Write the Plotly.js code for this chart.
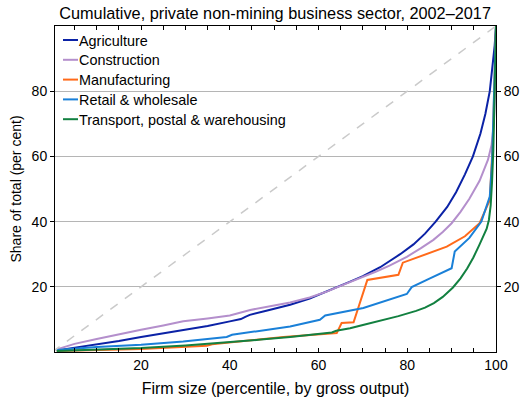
<!DOCTYPE html>
<html>
<head>
<meta charset="utf-8">
<script src="https://cdn.plot.ly/plotly-3.0.1.min.js"></script>
<style>html,body{margin:0;padding:0;background:#fff;}#chart{width:524px;height:401px;}</style>
</head>
<body>
<div id="chart"></div>
<script>
// Series names
const seriesNames = ["Agriculture", "Construction", "Manufacturing", "Retail & wholesale", "Transport, postal & warehousing"];

// Agriculture
const agriX = [1, 5, 10, 15, 20, 25, 29.5, 35, 40, 42.5, 43.5, 44.5, 48, 53.6, 58, 62, 64.4, 67, 70, 73.9, 78.4, 81.4, 84, 86.4, 89, 91, 93, 94.8, 96.5, 97.6, 98.6, 99.3, 99.7, 100];
const agriY = [0.5, 1.3, 2.2, 3.4, 4.6, 5.7, 6.8, 8.0, 9.4, 10.1, 10.8, 11.4, 12.6, 14.5, 16.4, 18.6, 20, 21.5, 23.3, 26.0, 30.0, 33.0, 36.3, 40, 44.5, 49, 54.5, 60, 67, 73, 80, 88, 94, 100];

// Construction
const consX = [1, 5, 10, 15, 20, 25, 29.5, 35, 40, 44.6, 49, 53.6, 58, 62, 64.4, 67, 70, 73, 76, 79.9, 83, 85.9, 88, 90, 92, 94, 96.3, 98.2, 99, 99.5, 99.8, 100];
const consY = [0.8, 2.5, 4.0, 5.5, 6.8, 8.1, 9.4, 10.3, 11.2, 12.9, 14.0, 15.2, 16.7, 18.6, 20, 21.4, 23.0, 24.7, 26.5, 29.2, 31.8, 34.4, 36.8, 39.5, 43.0, 47.0, 52.5, 59, 63.5, 70, 80, 100];

// Manufacturing
const manuX = [1, 20, 34.8, 36, 52.1, 64.1, 65.2, 67.9, 71, 78, 79, 84, 88.9, 93, 96.3, 98.6, 99.3, 100];
const manuY = [0.3, 0.9, 1.9, 2.4, 4.6, 5.8, 8.9, 9.1, 22.1, 23.7, 27.4, 29.8, 32.3, 35.5, 39.5, 46.6, 65, 100];

// Retail & wholesale
const retX = [1, 10, 20, 29.5, 39.3, 40.5, 53.6, 60.3, 61.5, 67, 70.1, 79.9, 81, 85, 90, 90.7, 94, 96.7, 98.6, 99.1, 99.5, 100];
const retY = [0.6, 1.5, 2.2, 3.2, 4.6, 5.3, 7.8, 9.9, 11.2, 12.6, 13.5, 17.8, 19.9, 22.5, 25.7, 30.8, 35, 40, 47.7, 58, 75, 100];

// Transport, postal & warehousing
const tranX = [1, 10, 20, 30, 40, 47, 53.6, 58, 63, 64, 67.1, 70, 73.9, 78, 82, 84, 86, 88, 90.3, 92, 93.5, 94.9, 96.2, 97.3, 97.9, 98.4, 98.8, 99.1, 99.4, 99.7, 100];
const tranY = [0.3, 0.7, 1.2, 2.0, 3.0, 3.8, 4.6, 5.2, 6.0, 6.5, 7.3, 8.3, 9.6, 11.0, 12.6, 13.6, 15.0, 16.9, 19.8, 22.6, 25.6, 29.0, 32.7, 35.8, 37.8, 40.5, 45, 52, 62, 80, 100];

// Line of equality
const eqX = [0, 100];
const eqY = [0, 100];

// Tick values
const yTicks = [20, 40, 60, 80];
const xTicks = [20, 40, 60, 80, 100];
const xTopTicks = [5, 10, 15, 20, 25, 30, 35, 40, 45, 50, 55, 60, 65, 70, 75, 80, 85, 90, 95, 100];

const colors = ["#0b22a6", "#b48fcc", "#ff6a1a", "#1a80d8", "#128040"];
const xs = [agriX, consX, manuX, retX, tranX];
const ys = [agriY, consY, manuY, retY, tranY];

const traces = [{
  x: eqX, y: eqY, xaxis: 'x2', yaxis: 'y2', mode: 'lines', showlegend: false,
  line: {color: '#cacaca', width: 1.5, dash: 'dash'}, hoverinfo: 'skip'
}];
for (let i = 0; i < seriesNames.length; i++) {
  traces.push({
    x: xs[i], y: ys[i], name: seriesNames[i], mode: 'lines',
    line: {color: colors[i], width: 2}
  });
}

const font = {family: 'Liberation Sans, Arial, sans-serif', color: '#000'};

const layout = {
  width: 524, height: 401,
  margin: {l: 55, r: 28, t: 26, b: 49},
  paper_bgcolor: '#fff', plot_bgcolor: '#fff',
  font: Object.assign({size: 14}, font),
  showlegend: true,
  title: {text: 'Cumulative, private non-mining business sector, 2002–2017',
          font: Object.assign({size: 16.3}, font), x: 0.525, xanchor: 'center', y: 0.967, yanchor: 'middle', yref: 'container'},
  legend: {x: 0.005, y: 0.995, xanchor: 'left', yanchor: 'top', bgcolor: 'rgba(0,0,0,0)',
           font: Object.assign({size: 14.4}, font), borderwidth: 0, tracegroupgap: 0},
  xaxis: {
    range: [0.6, 100], tickvals: xTicks, ticks: 'inside', ticklen: 4, tickcolor: '#000',
    minor: {dtick: 5, tick0: 0, ticks: 'inside', ticklen: 4, tickcolor: '#000'},
    showline: true, linecolor: '#000', linewidth: 1, mirror: true, showgrid: false, zeroline: false,
    tickfont: Object.assign({size: 14}, font),
    title: {text: 'Firm size (percentile, by gross output)', font: Object.assign({size: 16}, font), standoff: 11}
  },
  xaxis2: {
    range: [0.6, 100], tickvals: xTopTicks, ticks: 'inside', ticklen: 4, tickcolor: '#000',
    overlaying: 'x', side: 'top', anchor: 'y2', showticklabels: false, showline: false, showgrid: false, zeroline: false
  },
  yaxis: {
    range: [0, 100], tickvals: yTicks, ticks: 'outside', ticklen: 4, tickcolor: '#000',
    showline: true, linecolor: '#000', linewidth: 1, mirror: true,
    showgrid: true, gridcolor: '#b5b5b5', gridwidth: 1, zeroline: false,
    tickfont: Object.assign({size: 14}, font),
    title: {text: 'Share of total (per cent)', font: Object.assign({size: 14}, font), standoff: 6}
  },
  yaxis2: {
    range: [0, 100], tickvals: yTicks, ticks: 'outside', ticklen: 4, tickcolor: '#000',
    overlaying: 'y', side: 'right', anchor: 'x2', showline: false, showgrid: false, zeroline: false,
    tickfont: Object.assign({size: 14}, font)
  }
};

Plotly.newPlot('chart', traces, layout, {staticPlot: true, displayModeBar: false}).then(function () {
  const sb = document.querySelector('.legend .scrollbox');
  if (sb) sb.removeAttribute('clip-path');
  const groups = document.querySelectorAll('.legend .traces');
  const rowGap = 19.8, firstY = 40, lineX = 63;
  groups.forEach(function (g, i) {
    const p = g.querySelector('.legendlines path');
    const t = g.querySelector('.legendtext');
    if (p) p.setAttribute('d', 'M5,0h15');
    if (t) t.setAttribute('x', '21');
    if (!p) return;
    const r = p.getBoundingClientRect();
    const cy = r.top + r.height / 2;
    const tr = g.getAttribute('transform') || '';
    const m = tr.match(/translate\(([-\d.e]+)[ ,]+([-\d.e]+)\)/);
    let tx = 0, ty = 0;
    if (m) { tx = parseFloat(m[1]); ty = parseFloat(m[2]); }
    const dy = (firstY + i * rowGap) - cy;
    const dx = lineX - r.left;
    g.setAttribute('transform', 'translate(' + (tx + dx) + ',' + (ty + dy) + ')');
  });
});
</script>
</body>
</html>
